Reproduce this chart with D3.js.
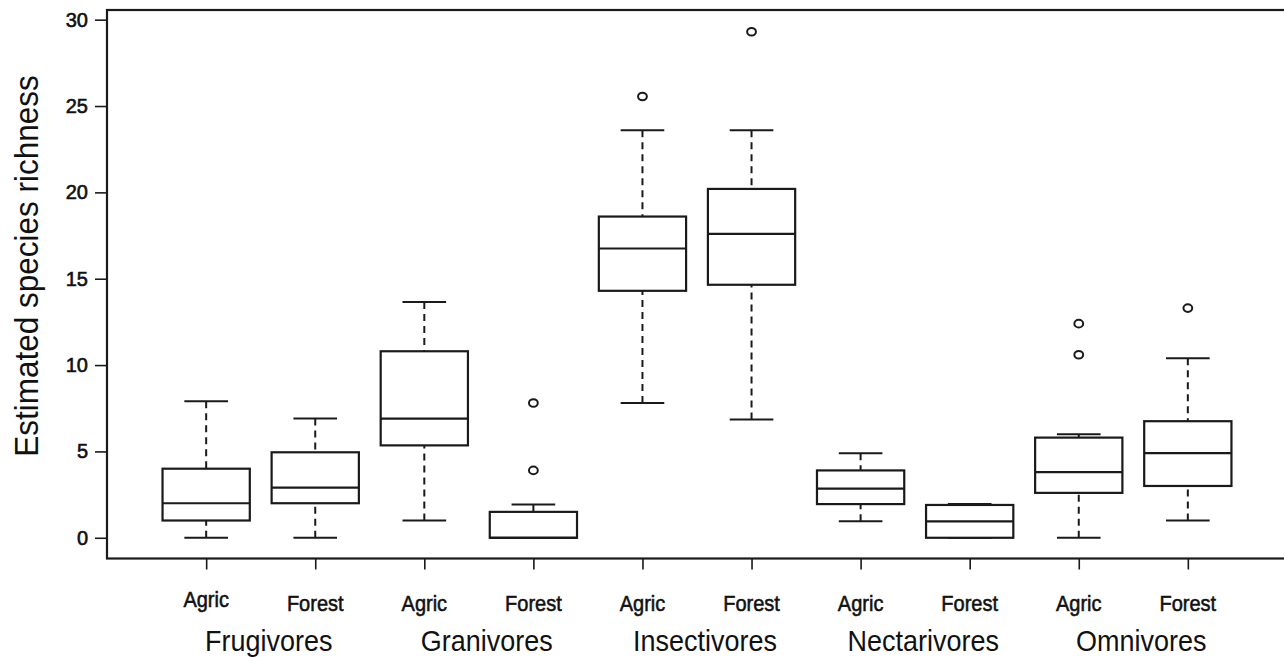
<!DOCTYPE html>
<html>
<head>
<meta charset="utf-8">
<script src="https://cdn.jsdelivr.net/npm/d3@7"></script>
<style>
  body { margin: 0; background: #fff; }
  text { font-family: "Liberation Sans", Arial, sans-serif; fill: #111; }
</style>
</head>
<body>
<div id="chart"></div>
<script>
// boxplot statistics, in order
// Frugivores Agric/Forest, Granivores ..., Insectivores ..., Nectarivores ..., Omnivores ...
const groups = ["Frugivores", "Granivores", "Insectivores", "Nectarivores", "Omnivores"];
const habitats = ["Agric", "Forest"];
const lowerWhisker = [0, 0, 1, 0, 7.8, 6.85, 0.95, 0, 0, 1];
const q1 = [1, 2, 5.35, 0, 14.3, 14.65, 1.95, 0, 2.6, 3.0];
const median = [2, 2.9, 6.9, 0, 16.75, 17.6, 2.85, 0.95, 3.8, 4.9];
const q3 = [4, 4.95, 10.8, 1.5, 18.6, 20.2, 3.9, 1.9, 5.8, 6.75];
const upperWhisker = [7.9, 6.9, 13.65, 1.93, 23.6, 23.6, 4.9, 1.95, 6.0, 10.4];
const outliers = [[], [], [], [7.8, 3.9], [25.55], [29.3], [], [], [12.4, 10.6], [13.3]];
const yTicks = [0, 5, 10, 15, 20, 25, 30];
const yLabel = "Estimated species richness";

function drawChart() {
    let width = 1284;
    let height = 657;
    let left = 107, right = 1286, top = 10, bottom = 558.5;
    let ink = "#1a1a1a";

    let boxes = [];
    groups.forEach(function(g) {
        habitats.forEach(function(h) {
            let i = boxes.length;
            boxes.push({
                key: g + "-" + h, group: g, habitat: h,
                lo: lowerWhisker[i], q1: q1[i], med: median[i], q3: q3[i], hi: upperWhisker[i],
                out: outliers[i]
            });
        });
    });

    let svg = d3.select("#chart")
        .append("svg")
        .attr("width", width)
        .attr("height", height);

    let xScale = d3.scalePoint()
        .domain(boxes.map(function(d) { return d.key; }))
        .range([left + 1, right])
        .padding(0.9);

    let yScale = d3.scaleLinear()
        .domain([-1.2, 30.56])
        .range([bottom, top]);

    let step = xScale.step();
    let boxW = step * 0.8;
    let capW = boxW * 0.5;

    // frame (right side falls outside the picture)
    svg.append("rect")
        .attr("x", left).attr("y", top)
        .attr("width", right - left).attr("height", bottom - top)
        .attr("fill", "none").attr("stroke", ink).attr("stroke-width", 2.2);

    // y axis
    let yAxis = svg.append("g")
        .attr("transform", "translate(" + left + ",0)")
        .call(d3.axisLeft(yScale).tickValues(yTicks).tickSize(12).tickPadding(7));
    yAxis.select(".domain").remove();
    yAxis.selectAll("line").attr("stroke", ink).attr("stroke-width", 1.6);
    yAxis.selectAll("text")
        .style("font-size", "20px")
        .style("font-family", "Liberation Sans, Arial, sans-serif")
        .attr("fill", "#111")
        .attr("stroke", "#111").attr("stroke-width", 0.6);

    // x axis ticks
    let xAxis = svg.append("g")
        .attr("transform", "translate(0," + bottom + ")")
        .call(d3.axisBottom(xScale).tickSize(11).tickFormat(""));
    xAxis.select(".domain").remove();
    xAxis.selectAll("line").attr("stroke", ink).attr("stroke-width", 1.6);

    // habitat labels
    svg.append("g").selectAll("text")
        .data(boxes)
        .enter().append("text")
        .attr("transform", function(d, i) {
            return "translate(" + xScale(d.key) + "," + (i === 0 ? 607 : 611) + ") scale(1,1.1)";
        })
        .attr("text-anchor", "middle")
        .attr("stroke", "#111").attr("stroke-width", 0.5)
        .style("font-size", "20px")
        .text(function(d) { return d.habitat; });

    // group labels
    svg.append("g").selectAll("text")
        .data(groups)
        .enter().append("text")
        .attr("transform", function(g) {
            let cx = (xScale(g + "-Agric") + xScale(g + "-Forest")) / 2 + 8;
            return "translate(" + cx + ",651) scale(1,1.12)";
        })
        .attr("text-anchor", "middle")
        .style("font-size", "27px")
        .text(function(g) { return g; });

    // y label
    svg.append("text")
        .attr("transform", "translate(38,266) rotate(-90) scale(1,1.08)")
        .attr("text-anchor", "middle")
        .style("font-size", "31.5px")
        .text(yLabel);

    // boxes
    let b = svg.append("g").selectAll("g")
        .data(boxes)
        .enter().append("g");

    // whiskers
    b.append("line")
        .attr("x1", function(d) { return xScale(d.key); })
        .attr("x2", function(d) { return xScale(d.key); })
        .attr("y1", function(d) { return yScale(d.hi); })
        .attr("y2", function(d) { return yScale(d.q3); })
        .attr("stroke", ink).attr("stroke-width", 2).attr("stroke-dasharray", "7,5");
    b.append("line")
        .attr("x1", function(d) { return xScale(d.key); })
        .attr("x2", function(d) { return xScale(d.key); })
        .attr("y1", function(d) { return yScale(d.lo); })
        .attr("y2", function(d) { return yScale(d.q1); })
        .attr("stroke", ink).attr("stroke-width", 2).attr("stroke-dasharray", "7,5");

    // staples
    ["lo", "hi"].forEach(function(k) {
        b.append("line")
            .attr("x1", function(d) { return xScale(d.key) - capW / 2; })
            .attr("x2", function(d) { return xScale(d.key) + capW / 2; })
            .attr("y1", function(d) { return yScale(d[k]); })
            .attr("y2", function(d) { return yScale(d[k]); })
            .attr("stroke", ink).attr("stroke-width", 2);
    });

    // box
    b.append("rect")
        .attr("x", function(d) { return xScale(d.key) - boxW / 2; })
        .attr("y", function(d) { return yScale(d.q3); })
        .attr("width", boxW)
        .attr("height", function(d) { return yScale(d.q1) - yScale(d.q3); })
        .attr("fill", "#fff").attr("stroke", ink).attr("stroke-width", 2.2);

    // median
    b.append("line")
        .attr("x1", function(d) { return xScale(d.key) - boxW / 2; })
        .attr("x2", function(d) { return xScale(d.key) + boxW / 2; })
        .attr("y1", function(d) { return yScale(d.med); })
        .attr("y2", function(d) { return yScale(d.med); })
        .attr("stroke", ink).attr("stroke-width", 2.2);

    // outliers
    b.selectAll("ellipse")
        .data(function(d) { return d.out.map(function(v) { return {key: d.key, v: v}; }); })
        .enter().append("ellipse")
        .attr("cx", function(d) { return xScale(d.key); })
        .attr("cy", function(d) { return yScale(d.v); })
        .attr("rx", 4.4).attr("ry", 3.8)
        .attr("fill", "none").attr("stroke", ink).attr("stroke-width", 2);
}

window.onload = () => {
    drawChart();
}
</script>
</body>
</html>
